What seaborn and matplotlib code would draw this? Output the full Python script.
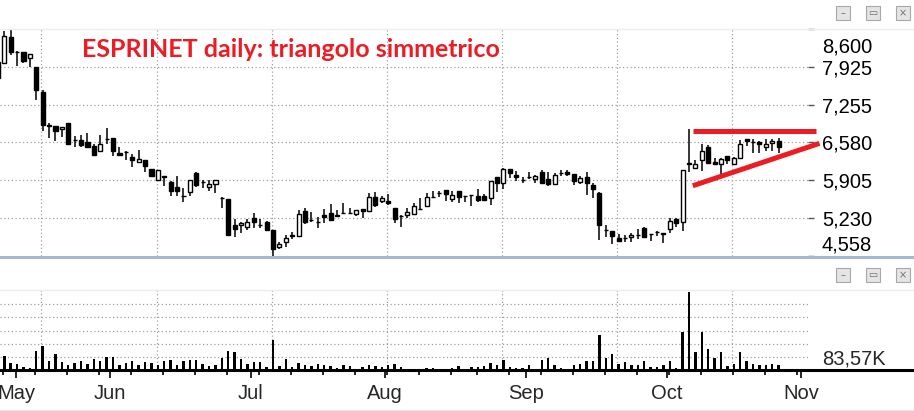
import numpy as np
import pandas as pd
import matplotlib
matplotlib.use("Agg")
import matplotlib.pyplot as plt
import matplotlib.transforms as mtransforms
from matplotlib.patches import Rectangle
from matplotlib.lines import Line2D
import seaborn as sns

# --- data: Esprinet daily candles, May 9 - Oct 27 2016
open_ = [7720, 7994, 8452, 8195, 8190, 8085, 7923, 7478, 6885, 6867,
         6814, 6926, 6630, 6618, 6582, 6511, 6432, 6635, 6659, 6392,
         6415, 6320, 6226, 6267, 6107, 5916, 5975, 5875, 5786, 5635,
         5690, 6030, 5870, 5792, 5834, 5590, 5572, 5109, 5104, 5078,
         5234, 5105, 5157, 5020, 4712, 4806, 4910, 4919, 5359, 5195,
         5165, 5290, 5323, 5270, 5318, 5318, 5300, 5394, 5365, 5603,
         5543, 5537, 5412, 5270, 5287, 5300, 5390, 5453, 5600, 5685,
         5727, 5578, 5710, 5625, 5640, 5620, 5620, 5585, 5959, 5852,
         6100, 6000, 5910, 5970, 5934, 6048, 5928, 5834, 6030, 6053,
         6018, 5880, 5970, 5827, 5685, 5020, 5002, 4872, 4875, 4890,
         4930, 5050, 4945, 4990, 4972, 5038, 5216, 5157, 6200, 6130,
         6262, 6493, 6232, 6190, 6333, 6202, 6308, 6635, 6593, 6593,
         6493, 6564, 6605]
high = [8060, 8560, 8600, 8203, 8195, 8160, 7930, 7520, 6926, 6870,
        6855, 6930, 6690, 6707, 6748, 6557, 6707, 6837, 6665, 6498,
        6420, 6374, 6445, 6270, 6110, 6085, 5980, 5898, 5987, 5768,
        5920, 6053, 5916, 5911, 5915, 5600, 5575, 5221, 5168, 5216,
        5318, 5216, 5175, 5025, 4806, 4926, 4990, 5377, 5407, 5346,
        5247, 5389, 5483, 5377, 5495, 5410, 5380, 5400, 5674, 5702,
        5625, 5662, 5420, 5280, 5407, 5495, 5585, 5685, 5720, 5710,
        5730, 5720, 5715, 5630, 5645, 5750, 5662, 5900, 5965, 6130,
        6105, 6076, 5959, 6048, 6000, 6089, 6048, 6041, 6094, 6094,
        6020, 5982, 6053, 5863, 5690, 5109, 5010, 4943, 4931, 4972,
        5038, 5080, 4950, 4995, 4975, 5228, 5240, 6095, 6814, 6267,
        6552, 6534, 6297, 6308, 6340, 6320, 6623, 6640, 6636, 6598,
        6636, 6636, 6653]
low = [7700, 7977, 8132, 7946, 8000, 7915, 7340, 6778, 6659, 6610,
       6685, 6540, 6495, 6505, 6495, 6343, 6409, 6553, 6343, 6355,
       6272, 6137, 6208, 6048, 5980, 5910, 5800, 5631, 5631, 5513,
       5630, 5786, 5768, 5720, 5685, 5418, 4913, 4901, 4972, 5020,
       5050, 5050, 5015, 4558, 4687, 4723, 4855, 4910, 5132, 5168,
       5062, 5150, 5190, 5245, 5315, 5315, 5275, 5240, 5360, 5435,
       5500, 5465, 5140, 5080, 5228, 5290, 5385, 5440, 5595, 5603,
       5537, 5524, 5495, 5524, 5453, 5520, 5537, 5465, 5690, 5750,
       5941, 5893, 5852, 5923, 5863, 5845, 5804, 5830, 5987, 5982,
       5827, 5834, 5643, 5595, 4842, 4901, 4771, 4812, 4812, 4806,
       4860, 4895, 4830, 4913, 4783, 4961, 5068, 5008, 6059, 6107,
       6076, 6201, 6180, 6023, 6196, 6178, 6300, 6516, 6397, 6386,
       6432, 6432, 6386]
close = [8020, 8470, 8185, 8185, 8025, 8155, 7508, 6896, 6880, 6778,
         6850, 6552, 6620, 6540, 6505, 6361, 6557, 6645, 6432, 6361,
         6410, 6262, 6285, 6155, 5987, 6083, 5970, 5720, 5720, 5628,
         5916, 5827, 5875, 5840, 5911, 5585, 4931, 5043, 5140, 5163,
         5168, 5112, 5020, 4676, 4771, 4878, 4925, 5300, 5157, 5200,
         5170, 5260, 5198, 5280, 5320, 5322, 5371, 5359, 5603, 5465,
         5590, 5495, 5216, 5275, 5335, 5448, 5389, 5603, 5605, 5688,
         5656, 5638, 5603, 5620, 5638, 5555, 5555, 5893, 5852, 6100,
         6030, 5959, 5911, 5972, 5987, 5863, 5834, 6000, 6035, 6018,
         5898, 5940, 5863, 5756, 5109, 5025, 4919, 4830, 4880, 4931,
         4932, 4901, 4943, 4988, 4955, 5180, 5140, 6089, 6208, 6190,
         6422, 6213, 6190, 6279, 6273, 6297, 6546, 6610, 6595, 6557,
         6546, 6600, 6493]
# volume in thousands of shares
volume_k = [51, 89, 43, 36, 17, 11, 121, 153, 57, 102,
            51, 32, 45, 57, 38, 70, 57, 83, 83, 32,
            45, 57, 32, 51, 45, 32, 57, 64, 32, 57,
            64, 64, 38, 25, 32, 76, 121, 114, 70, 38,
            51, 51, 19, 191, 25, 70, 19, 45, 32, 25,
            38, 32, 25, 13, 32, 25, 6, 19, 32, 25,
            19, 32, 38, 19, 4, 4, 3, 13, 13, 6,
            6, 13, 25, 3, 17, 17, 25, 45, 32, 64,
            19, 11, 11, 32, 3, 64, 76, 32, 11, 3,
            32, 38, 57, 57, 223, 76, 102, 38, 51, 32,
            32, 57, 19, 19, 32, 57, 11, 242, 496, 114,
            242, 134, 76, 114, 25, 38, 114, 57, 38, 32,
            32, 38, 32]

price_ticks = [8600, 7925, 7255, 6580, 5905, 5230, 4558]
volume_step_k = 83.57
month_names = ["May", "Jun", "Jul", "Aug", "Sep", "Oct", "Nov"]
holidays = ["2016-08-15"]

# triangle drawn by hand on the chart (bar index, price)
resistance_x = [108.6, 127.8]
resistance_y = [6783, 6783]
support_x = [108.6, 128.4]
support_y = [5809, 6564]

title = "ESPRINET daily: triangolo simmetrico"

# ---------------------------------------------------------------------------
sns.set_style("white")
plt.rcParams["font.family"] = ["Liberation Sans", "DejaVu Sans"]

W, H = 914, 411
RED = "#ec1c24"
GRID = dict(color="#a0a0a0", lw=0.9, ls=(0, (1, 2)), zorder=0)

n = len(close)
x = np.arange(n)
o, c = np.array(open_), np.array(close)
up = c >= o

days = pd.bdate_range("2016-05-09", "2016-11-04").drop(pd.to_datetime(holidays))
month_start = [i for i in range(1, len(days)) if days[i].month != days[i - 1].month]
week = days.isocalendar().week.values
week_start = [0] + [i for i in range(1, len(days)) if week[i] != week[i - 1]]

x_left, x_right = 0.33, 126.6
vgrid = np.arange(6.8, x_right, 18)

fig = plt.figure(figsize=(W / 100, H / 100), dpi=100)
ax_p = fig.add_axes([0, 1 - 256 / H, 808 / W, (256 - 29) / H])
ax_v = fig.add_axes([0, 1 - 370 / H, 808 / W, (370 - 290) / H])

# --- price panel
for v in price_ticks[1:-1]:
    ax_p.axhline(v, **GRID)
for g in vgrid:
    ax_p.axvline(g, **GRID)
ax_p.vlines(x, low, high, color="black", lw=1.1, zorder=2)
ax_p.bar(x, np.abs(c - o), bottom=np.minimum(o, c), width=0.64,
         color=np.where(up, "white", "black"), edgecolor="black",
         linewidth=1, zorder=3)
ax_p.plot(resistance_x, resistance_y, color=RED, lw=3.6, clip_on=False,
          solid_capstyle="butt", zorder=5)
ax_p.plot(support_x, support_y, color=RED, lw=3.6, clip_on=False,
          solid_capstyle="butt", zorder=5)

ax_p.set_xlim(x_left, x_right)
ax_p.set_ylim(price_ticks[-1], price_ticks[0])
ax_p.set_xticks([])
ax_p.yaxis.tick_right()
ax_p.set_yticks(price_ticks)
ax_p.set_yticklabels([f"{v:,}" for v in price_ticks])
ax_p.tick_params(axis="y", length=4, width=1, color="#555555", pad=6,
                 labelsize=14.5, labelcolor="black", right=True, left=False)
labels = ax_p.get_yticklabels()
for lab, dy in ((labels[0], -0.16), (labels[-1], 0.13)):
    lab.set_transform(lab.get_transform()
                      + mtransforms.ScaledTranslation(0, dy, fig.dpi_scale_trans))
for s in ax_p.spines.values():
    s.set_visible(False)

fig.text(82 / W, 1 - 57 / H, title, color=RED, fontsize=18,
         fontweight="bold", family="Lato", va="baseline", ha="left")

# --- volume panel
for k in range(1, 6):
    ax_v.axhline(volume_step_k * k, **GRID)
for g in vgrid:
    ax_v.axvline(g, **GRID)
vol = pd.DataFrame({"bar": x, "volume": volume_k})
sns.barplot(data=vol, x="bar", y="volume", native_scale=True, width=0.38,
            color="black", saturation=1, errorbar=None, linewidth=0,
            ax=ax_v, zorder=3)
ax_v.set_xlim(x_left, x_right)
ax_v.set_ylim(0, 509)
ax_v.set_xlabel("")
ax_v.set_ylabel("")
for s in ax_v.spines.values():
    s.set_visible(False)

ax_v.set_xticks([2.9] + [i + 0.5 for i in month_start])
ax_v.set_xticklabels(month_names)
ax_v.set_xticks([i + 0.85 for i in week_start], minor=True)
ax_v.tick_params(axis="x", which="major", length=6, width=1.2, color="black",
                 pad=4, labelsize=14.5, bottom=True)
ax_v.tick_params(axis="x", which="minor", length=3.5, width=1.2, color="black",
                 bottom=True)
ax_v.yaxis.tick_right()
ax_v.set_yticks([volume_step_k])
ax_v.set_yticklabels(["83,57K"])
ax_v.tick_params(axis="y", length=0, pad=10, labelsize=14.5, right=True, left=False)

# --- window frame pieces
def hline(y, color, lw):
    fig.add_artist(Line2D([0, 1], [1 - y / H, 1 - y / H], color=color, lw=lw,
                          transform=fig.transFigure))

hline(29, "#ececec", 1)
hline(290, "#ececec", 1)
hline(410, "#e6e6e6", 1)
hline(256.8, "#a3b8d3", 2.2)
hline(370, "black", 2.2)


def window_buttons(yc):
    for cx, glyph in zip([843, 873, 903], ["–", "▭", "×"]):
        fig.add_artist(Rectangle(((cx - 7) / W, 1 - (yc + 7) / H), 14 / W, 14 / H,
                                 transform=fig.transFigure, facecolor="#e4e4e4",
                                 edgecolor="#a8a8a8", lw=0.8))
        fig.text(cx / W, 1 - yc / H, glyph, fontsize=7, color="#707070",
                 ha="center", va="center", family="DejaVu Sans")


window_buttons(13)
window_buttons(275)

fig.savefig("out.png", dpi=100, facecolor="white")
